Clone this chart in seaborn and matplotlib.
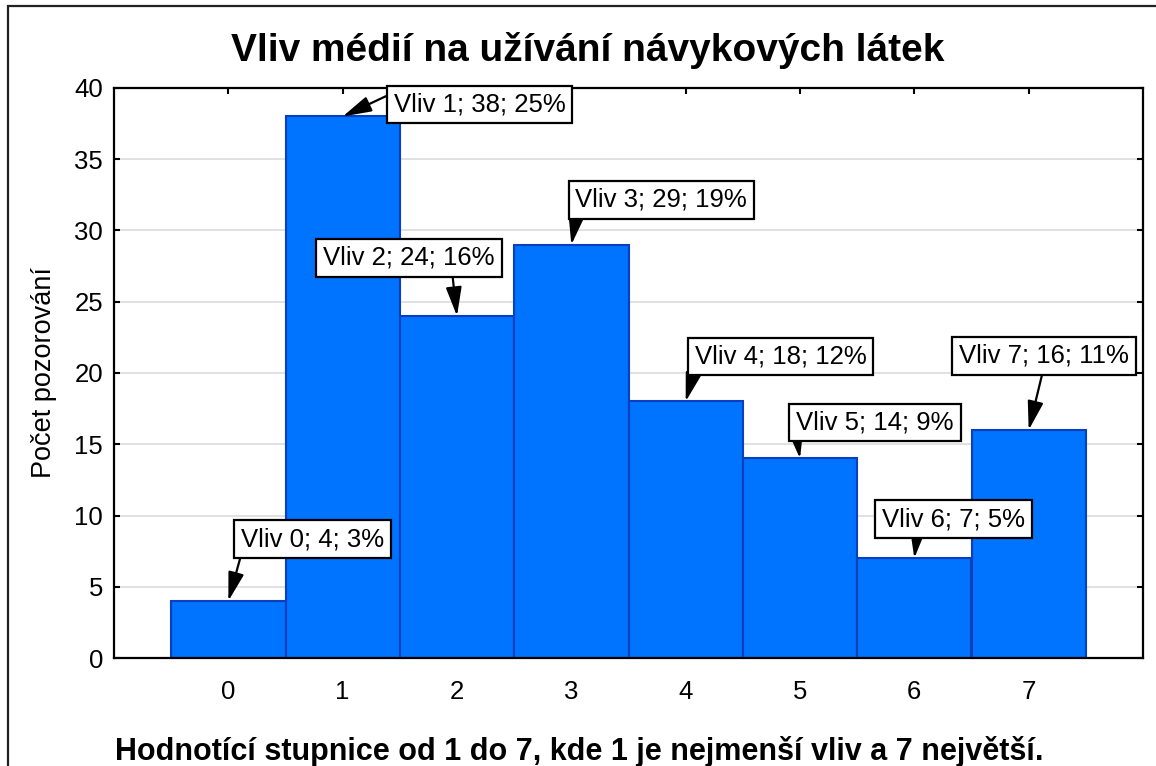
import matplotlib
matplotlib.use("Agg")
import matplotlib.pyplot as plt
import seaborn as sns
import pandas as pd
from matplotlib.patches import Rectangle

# ---- data ----
categories = ["0", "1", "2", "3", "4", "5", "6", "7"]
counts = [4, 38, 24, 29, 18, 14, 7, 16]
percents = [3, 25, 16, 19, 12, 9, 5, 11]
y_ticks = [0, 5, 10, 15, 20, 25, 30, 35, 40]

title = "Vliv médií na užívání návykových látek"
x_label = "Hodnotící stupnice od 1 do 7, kde 1 je nejmenší vliv a 7 největší."
y_label = "Počet pozorování"

# label box offsets (pixels, relative to bar top) and arrow start on box
label_offsets = [(84, 62), (137, 12), (-48, 58), (90, 45), (95, 45), (75, 36), (39, 39), (15, 74)]
label_relpos = [(0.01, 0.0), (0.0, 1.0), (0.75, 0.0), (0.01, 0.0), (0.0, 0.0), (0.0, 0.0), (0.25, 0.0), (0.5, 0.0)]

sns.set_theme(style="white")
plt.rcParams["font.family"] = ["Liberation Sans", "DejaVu Sans"]

W, H = 1156, 766
fig = plt.figure(figsize=(W / 100, H / 100), dpi=100)
ax = fig.add_axes([114 / W, 1 - 658 / H, (1143 - 114) / W, (658 - 88) / H])

df = pd.DataFrame({"cat": categories, "count": counts})
sns.barplot(data=df, x="cat", y="count", ax=ax, width=1.0, color="#0073ff",
            saturation=1, edgecolor="#0b3fbf", linewidth=1.5, zorder=2)

ax.set_xlim(-1, 8)
ax.set_ylim(0, 40)
ax.set_yticks(y_ticks)
ax.set_yticklabels([str(v) for v in y_ticks])
ax.set_xlabel("")
ax.set_ylabel(y_label, fontsize=19.5, labelpad=12, color="black")
ax.yaxis.grid(True, color="#dcdcdc", linewidth=1.2, zorder=0)
ax.set_axisbelow(True)

for sp in ax.spines.values():
    sp.set_visible(True)
    sp.set_color("black")
    sp.set_linewidth(1.6)

ax.tick_params(axis="both", direction="in", length=4, width=1.5, color="black",
               labelsize=18.5, top=True, right=True, bottom=True, left=True,
               labelcolor="black")
ax.tick_params(axis="x", pad=16)
ax.tick_params(axis="y", pad=8)

for i, (c, p) in enumerate(zip(counts, percents)):
    dx, dy = label_offsets[i]
    ax.annotate(f"Vliv {categories[i]}; {c}; {p}%", xy=(i, c), xycoords="data",
                xytext=(dx, dy), textcoords="offset pixels",
                ha="center", va="center", fontsize=18.5, color="black",
                bbox=dict(boxstyle="square,pad=0.27", fc="white", ec="black", lw=1.6),
                arrowprops=dict(arrowstyle="-|>,head_length=0.95,head_width=0.26",
                                color="black", lw=1.6, shrinkA=0, shrinkB=0,
                                relpos=label_relpos[i]),
                annotation_clip=False, zorder=5)

fig.text(588 / W, 1 - 61 / H, title, ha="center", va="baseline",
         fontsize=28, fontweight="bold", color="black")
fig.text(579 / W, 1 - 760 / H, x_label, ha="center", va="baseline",
         fontsize=22, fontweight="bold", color="black")

frame = Rectangle((8 / W, -0.1), 1.2, 1.1 - 6 / H,
                  transform=fig.transFigure, fill=False, ec="#222222", lw=1.6,
                  clip_on=False)
fig.patches.append(frame)

fig.savefig("out.png", dpi=100, facecolor="white")
